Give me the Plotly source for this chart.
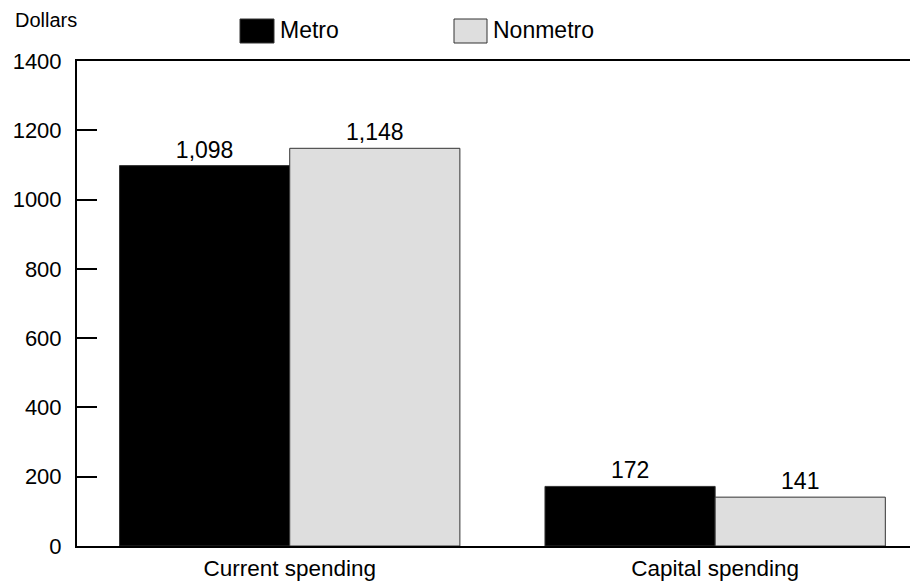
import plotly.graph_objects as go

categories = ["Current spending", "Capital spending"]
metro = [1098, 172]
nonmetro = [1148, 141]
series_names = ["Metro", "Nonmetro"]
metro_labels = ["1,098", "172"]
nonmetro_labels = ["1,148", "141"]
ytick_vals = [0, 200, 400, 600, 800, 1000, 1200, 1400]

FONT = "Liberation Sans, Arial, sans-serif"

fig = go.Figure()
fig.add_trace(go.Bar(
    x=categories, y=metro, name=series_names[0],
    marker=dict(color="#000000", line=dict(color="#333333", width=1)),
    text=metro_labels, textposition="outside", cliponaxis=False,
    textfont=dict(family=FONT, size=23, color="#000"),
))
fig.add_trace(go.Bar(
    x=categories, y=nonmetro, name=series_names[1],
    marker=dict(color="#dedede", line=dict(color="#333333", width=1)),
    text=nonmetro_labels, textposition="outside", cliponaxis=False,
    textfont=dict(family=FONT, size=23, color="#000"),
))

fig.update_layout(
    width=911, height=583,
    margin=dict(l=77, r=1, t=61, b=37),
    paper_bgcolor="white", plot_bgcolor="white",
    barmode="group", bargap=0.2, bargroupgap=0,
    showlegend=False,
    font=dict(family=FONT, size=22, color="#000"),
    xaxis=dict(
        type="category", range=[-0.5, 1.458], automargin=False,
        showline=True, linecolor="#000", linewidth=2, mirror=True,
        showgrid=False, ticks="", tickfont=dict(size=22.5),
        ticklabelstandoff=1,
    ),
    yaxis=dict(
        range=[0, 1400], tickvals=ytick_vals, automargin=False,
        showline=True, linecolor="#000", linewidth=2,
        showgrid=False, zeroline=False,
        ticks="inside", ticklen=20, tickwidth=2, tickcolor="#000",
        tickfont=dict(size=22), ticklabelstandoff=9,
    ),
)

# Manual legend with large swatches
legend_items = [
    (series_names[0], "#000000", 240, 274),
    (series_names[1], "#dedede", 454, 487),
]
for name, color, x0, x1 in legend_items:
    fig.add_shape(type="rect", xref="paper", yref="paper",
                  x0=(x0 - 77) / 833, x1=(x1 - 77) / 833,
                  y0=(546 - 43) / 485, y1=(546 - 19) / 485,
                  fillcolor=color, line=dict(color="#333333", width=1))
    fig.add_annotation(xref="paper", yref="paper",
                       x=(x1 + 4 - 77) / 833, y=(546 - 30) / 485,
                       xanchor="left", yanchor="middle", showarrow=False,
                       text=name, font=dict(family=FONT, size=23, color="#000"))

fig.add_annotation(xref="paper", yref="paper", x=(13 - 77) / 833, y=(546 - 20) / 485,
                   xanchor="left", yanchor="middle", showarrow=False,
                   text="Dollars", font=dict(family=FONT, size=20, color="#000"))

fig.write_html("out.html")
